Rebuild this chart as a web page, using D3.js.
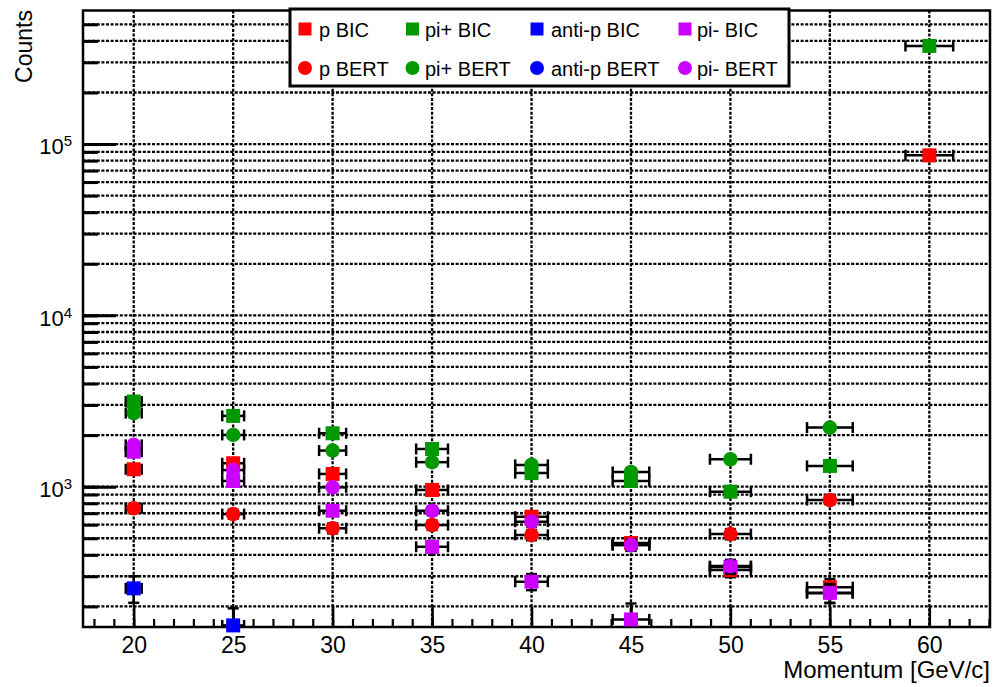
<!DOCTYPE html>
<html>
<head>
<meta charset="utf-8">
<script src="https://cdn.jsdelivr.net/npm/d3@7"></script>
<style>
  body { margin: 0; background: #fff; }
  svg { display: block; font-family: "Liberation Sans", Arial, sans-serif; }
</style>
</head>
<body>
<svg id="chart" width="995" height="687"></svg>
<script>
// momentum points and their horizontal errors
const momentum = [20, 25, 30, 35, 40, 45, 50, 55, 60];
const momentumErr = [0.4, 0.55, 0.68, 0.8, 0.82, 0.92, 1.03, 1.15, 1.2];

// counts per series (null = outside the plot)
const pBIC = [1264, 1370, 1187, 957, 668, 469, 326, 259, 85900];
const pBERT = [748, 692, 572, 597, 523, 456, 529, 836, null];
const pipBIC = [3140, 2590, 2050, 1660, 1200, 1080, 935, 1322, 374000];
const pipBERT = [2690, 2005, 1625, 1390, 1340, 1219, 1446, 2213, null];
const apBIC = [255, 155, null, null, null, null, null, null, null];
const apBERT = [null, null, null, null, null, null, null, null, null];
const pimBIC = [1600, 1080, 724, 446, 279, 168, 340, 240, null];
const pimBERT = [1754, 1250, 991, 724, 625, 456, 344, 239, null];

// vertical errors
const pBICErr = [60, 60, 55, 50, 40, 35, 30, 30, 1500];
const pBERTErr = [45, 42, 38, 38, 36, 33, 36, 45, 0];
const pipBICErr = [90, 80, 70, 62, 55, 50, 48, 60, 3000];
const pipBERTErr = [80, 70, 62, 58, 58, 55, 60, 75, 0];
const apBICErr = [45, 40, 0, 0, 0, 0, 0, 0, 0];
const apBERTErr = [0, 0, 0, 0, 0, 0, 0, 0, 0];
const pimBICErr = [65, 52, 42, 32, 30, 40, 30, 30, 0];
const pimBERTErr = [68, 55, 48, 42, 40, 34, 30, 30, 0];

const xMajor = [20, 25, 30, 35, 40, 45, 50, 55, 60];
const yMajor = [1e3, 1e4, 1e5];

const series = [
  { name: "p BIC", values: pBIC, err: pBICErr, color: "#ff0000", shape: "square" },
  { name: "pi+ BIC", values: pipBIC, err: pipBICErr, color: "#009900", shape: "square" },
  { name: "anti-p BIC", values: apBIC, err: apBICErr, color: "#0000ff", shape: "square" },
  { name: "pi- BIC", values: pimBIC, err: pimBICErr, color: "#cc00ff", shape: "square" },
  { name: "p BERT", values: pBERT, err: pBERTErr, color: "#ff0000", shape: "circle" },
  { name: "pi+ BERT", values: pipBERT, err: pipBERTErr, color: "#009900", shape: "circle" },
  { name: "anti-p BERT", values: apBERT, err: apBERTErr, color: "#0000ff", shape: "circle" },
  { name: "pi- BERT", values: pimBERT, err: pimBERTErr, color: "#cc00ff", shape: "circle" }
];

const plotL = 83, plotR = 990, plotT = 10.5, plotB = 627;

const svg = d3.select("#chart");

const x = d3.scaleLinear().domain([17.45, 63.05]).range([plotL, plotR]);
const y = d3.scaleLog().domain([151.7, 6.02e5]).range([plotB, plotT]);

// grille pointillée
const grid = svg.append("g").attr("stroke", "#000").attr("stroke-width", 2.3)
  .attr("stroke-dasharray", "3,1.6");

const yGrid = y.ticks().filter((t) => y(t) < plotB - 1 && y(t) > plotT + 1);
grid.selectAll(".hg").data(yGrid).enter().append("line")
  .attr("x1", plotL).attr("x2", plotR)
  .attr("y1", (d) => y(d)).attr("y2", (d) => y(d));

grid.selectAll(".vg").data(xMajor).enter().append("line")
  .attr("x1", (d) => x(d)).attr("x2", (d) => x(d))
  .attr("y1", plotT).attr("y2", plotB);

// axes (ticks vers l'intérieur)
const axes = svg.append("g");

axes.append("g")
  .attr("transform", `translate(0,${plotB})`)
  .call(d3.axisBottom(x).tickValues(d3.range(18, 64)).tickSize(-8).tickFormat(""))
  .call((g) => g.selectAll("line").attr("stroke-width", 2.2));

axes.append("g")
  .attr("transform", `translate(0,${plotB})`)
  .call(d3.axisBottom(x).tickValues(xMajor).tickSize(-20).tickPadding(10).tickFormat(d3.format("d")))
  .call((g) => g.selectAll("line").attr("stroke-width", 2.5))
  .call((g) => g.selectAll("text").style("font-size", "23px").attr("fill", "#000"));

axes.append("g")
  .attr("transform", `translate(${plotL},0)`)
  .call(d3.axisLeft(y).tickValues(yGrid).tickSize(-15).tickFormat(""))
  .call((g) => g.selectAll("line").attr("stroke-width", 3));

axes.append("g")
  .attr("transform", `translate(${plotL},0)`)
  .call(d3.axisLeft(y).tickValues(yMajor).tickSize(-33).tickPadding(11).tickFormat(""))
  .call((g) => g.selectAll("line").attr("stroke-width", 3))
  .call((g) => g.selectAll(".tick text").each(function (d) {
    const t = d3.select(this).text(null).attr("dy", "0.45em")
      .style("font-size", "22px").attr("fill", "#000");
    t.append("tspan").text("10");
    t.append("tspan").attr("dy", "-0.55em").style("font-size", "15px")
      .text(Math.round(Math.log10(d)));
  }));

axes.selectAll(".domain").remove();

svg.append("rect")
  .attr("x", plotL).attr("y", plotT)
  .attr("width", plotR - plotL).attr("height", plotB - plotT)
  .attr("fill", "none").attr("stroke", "#000").attr("stroke-width", 2.5);

// titres
svg.append("text")
  .attr("transform", "translate(32,10) rotate(-90)")
  .attr("text-anchor", "end")
  .style("font-size", "23px")
  .text("Counts");

svg.append("text")
  .attr("x", 990).attr("y", 678)
  .attr("text-anchor", "end")
  .style("font-size", "24px")
  .text("Momentum [GeV/c]");

// points avec barres d'erreur
svg.append("clipPath").attr("id", "plotclip")
  .append("rect").attr("x", plotL).attr("y", plotT)
  .attr("width", plotR - plotL).attr("height", plotB - plotT);

const capH = 5.5;
series.forEach((s) => {
  const pts = momentum
    .map((m, i) => ({ m: m, dm: momentumErr[i], v: s.values[i], e: s.err[i] }))
    .filter((p) => p.v != null);

  const eg = svg.append("g").attr("stroke", "#000").attr("stroke-width", 2.5)
    .attr("clip-path", "url(#plotclip)");

  pts.forEach((p) => {
    const cx = x(p.m), cy = y(p.v);
    const x0 = x(p.m - p.dm), x1 = x(p.m + p.dm);
    eg.append("line").attr("x1", x0).attr("x2", x1).attr("y1", cy).attr("y2", cy);
    eg.append("line").attr("x1", x0).attr("x2", x0).attr("y1", cy - capH).attr("y2", cy + capH);
    eg.append("line").attr("x1", x1).attr("x2", x1).attr("y1", cy - capH).attr("y2", cy + capH);
    if (p.e > 0) {
      const y0 = y(Math.max(p.v - p.e, 1)), y1 = y(p.v + p.e);
      eg.append("line").attr("x1", cx).attr("x2", cx).attr("y1", y0).attr("y2", y1);
      eg.append("line").attr("x1", cx - capH).attr("x2", cx + capH).attr("y1", y0).attr("y2", y0);
      eg.append("line").attr("x1", cx - capH).attr("x2", cx + capH).attr("y1", y1).attr("y2", y1);
    }
  });

  const mg = svg.append("g").attr("fill", s.color);
  if (s.shape === "square") {
    mg.selectAll("rect").data(pts).enter().append("rect")
      .attr("x", (d) => x(d.m) - 7).attr("y", (d) => y(d.v) - 7)
      .attr("width", 14).attr("height", 14);
  } else {
    mg.selectAll("circle").data(pts).enter().append("circle")
      .attr("cx", (d) => x(d.m)).attr("cy", (d) => y(d.v)).attr("r", 7.3);
  }
});

// légende
const legend = svg.append("g");
legend.append("rect")
  .attr("x", 290).attr("y", 9).attr("width", 499).attr("height", 77)
  .attr("fill", "#fff").attr("stroke", "#000").attr("stroke-width", 3);

const colMarker = [305, 412.5, 537, 685];
const colText = [319, 425, 551, 697];
const rowY = [29, 68];

series.forEach((s, i) => {
  const c = i % 4, r = Math.floor(i / 4);
  if (s.shape === "square") {
    legend.append("rect")
      .attr("x", colMarker[c] - 6.5).attr("y", rowY[r] - 6.5)
      .attr("width", 13).attr("height", 13).attr("fill", s.color);
  } else {
    legend.append("circle")
      .attr("cx", colMarker[c]).attr("cy", rowY[r]).attr("r", 7).attr("fill", s.color);
  }
  legend.append("text")
    .attr("x", colText[c]).attr("y", rowY[r] + 7.5)
    .style("font-size", "20px")
    .text(s.name);
});
</script>
</body>
</html>
